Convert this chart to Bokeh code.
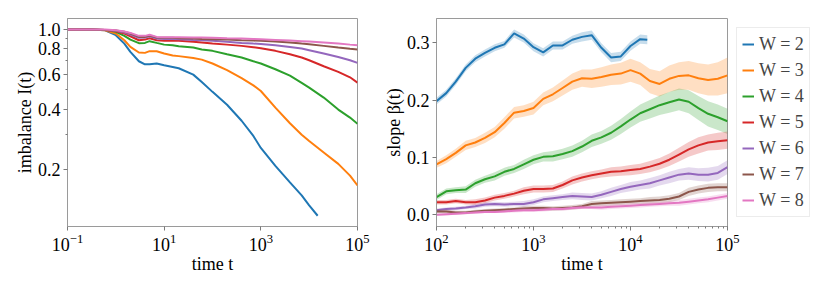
import numpy as np
from bokeh.plotting import figure
from bokeh.models import (Legend, LegendItem, FixedTicker, Range1d, PrintfTickFormatter)
from bokeh.layouts import row
from bokeh.embed import file_html
from bokeh.resources import INLINE

FONT = "Liberation Serif"
COLORS = ["#1f77b4", "#ff7f0e", "#2ca02c", "#d62728", "#9467bd", "#8c564b", "#e377c2"]
W_VALUES = [2, 3, 4, 5, 6, 7, 8]

# ---------------- left panel: imbalance I(t) ----------------
T_IMB = [0.1, 0.3, 0.6, 1, 1.5, 2, 3, 4, 5, 7, 10, 15, 20, 40, 60, 100, 200, 400,
         700, 1000, 2000, 4000, 7000, 1e4, 2e4, 4e4, 7e4, 1e5]
T_IMB_W2 = T_IMB[:24] + [1.5e4]
I_W2 = [1.0, 1.0, 0.992, 0.937, 0.851, 0.774, 0.695, 0.671, 0.671, 0.677, 0.664, 0.651,
        0.641, 0.596, 0.548, 0.489, 0.422, 0.351, 0.295, 0.257, 0.209, 0.173, 0.149, 0.133, 0.118]
I_W3 = [1.0, 1.0, 0.992, 0.955, 0.884, 0.819, 0.768, 0.765, 0.780, 0.780, 0.759, 0.742,
        0.737, 0.722, 0.708, 0.677, 0.627, 0.572, 0.527, 0.494, 0.408, 0.341, 0.299, 0.278,
        0.244, 0.214, 0.187, 0.167]
I_W4 = [1.0, 1.0, 0.996, 0.974, 0.930, 0.891, 0.855, 0.858, 0.875, 0.858, 0.841, 0.835,
        0.826, 0.813, 0.795, 0.783, 0.753, 0.725, 0.695, 0.677, 0.634, 0.589, 0.542, 0.513,
        0.458, 0.399, 0.364, 0.339]
I_W5 = [1.0, 1.0, 0.996, 0.981, 0.955, 0.926, 0.884, 0.891, 0.905, 0.884, 0.878, 0.881,
        0.878, 0.868, 0.861, 0.851, 0.841, 0.829, 0.816, 0.807, 0.783, 0.753, 0.725, 0.703,
        0.656, 0.615, 0.578, 0.544]
I_W6 = [1.0, 1.0, 0.996, 0.985, 0.966, 0.944, 0.909, 0.912, 0.926, 0.902, 0.898, 0.898,
        0.895, 0.888, 0.884, 0.878, 0.868, 0.858, 0.851, 0.848, 0.835, 0.819, 0.804, 0.789,
        0.759, 0.730, 0.703, 0.682]
I_W7 = [1.0, 1.0, 0.996, 0.989, 0.974, 0.955, 0.919, 0.919, 0.933, 0.912, 0.909, 0.909,
        0.905, 0.902, 0.898, 0.895, 0.891, 0.884, 0.881, 0.878, 0.871, 0.861, 0.851, 0.845,
        0.829, 0.813, 0.801, 0.795]
I_W8 = [1.0, 1.0, 1.0, 0.992, 0.977, 0.962, 0.930, 0.930, 0.941, 0.919, 0.916, 0.916,
        0.916, 0.912, 0.912, 0.909, 0.905, 0.902, 0.898, 0.895, 0.888, 0.881, 0.875, 0.871,
        0.861, 0.851, 0.841, 0.835]

# ---------------- right panel: slope beta(t) ----------------
T_SLOPE = [100, 126, 158, 200, 251, 316, 398, 501, 631, 794, 1000, 1259, 1585, 1995,
           2512, 3162, 3981, 5012, 6310, 7943, 10000, 12589, 15849, 19953, 25119, 31623,
           39811, 50119, 63096, 79433, 100000]
T_SLOPE_W2 = T_SLOPE[:22] + [14900]
B_W2 = [0.198, 0.212, 0.232, 0.256, 0.272, 0.282, 0.291, 0.297, 0.316, 0.307, 0.292, 0.283,
        0.295, 0.295, 0.305, 0.310, 0.313, 0.291, 0.274, 0.276, 0.294, 0.306, 0.305]
B_W3 = [0.088, 0.097, 0.108, 0.121, 0.126, 0.134, 0.144, 0.160, 0.178, 0.181, 0.186, 0.202,
        0.210, 0.221, 0.232, 0.238, 0.237, 0.240, 0.244, 0.246, 0.252, 0.246, 0.233, 0.228,
        0.237, 0.242, 0.243, 0.238, 0.235, 0.237, 0.243]
B_W4 = [0.031, 0.041, 0.043, 0.044, 0.055, 0.062, 0.067, 0.075, 0.080, 0.088, 0.096, 0.101,
        0.102, 0.106, 0.111, 0.119, 0.129, 0.135, 0.143, 0.154, 0.166, 0.177, 0.184, 0.191,
        0.196, 0.201, 0.197, 0.186, 0.176, 0.170, 0.163]
B_W5 = [0.022, 0.022, 0.024, 0.022, 0.022, 0.025, 0.030, 0.033, 0.037, 0.042, 0.045, 0.045,
        0.046, 0.052, 0.060, 0.065, 0.069, 0.072, 0.075, 0.076, 0.078, 0.080, 0.084, 0.089,
        0.096, 0.105, 0.114, 0.121, 0.126, 0.128, 0.130]
B_W6 = [0.008, 0.010, 0.011, 0.013, 0.015, 0.018, 0.019, 0.018, 0.019, 0.019, 0.022, 0.027,
        0.029, 0.031, 0.033, 0.032, 0.031, 0.035, 0.040, 0.045, 0.049, 0.052, 0.055, 0.060,
        0.065, 0.070, 0.072, 0.070, 0.070, 0.073, 0.083]
B_W7 = [0.006, 0.006, 0.004, 0.004, 0.006, 0.007, 0.008, 0.009, 0.010, 0.011, 0.012, 0.012,
        0.011, 0.012, 0.013, 0.015, 0.019, 0.020, 0.021, 0.022, 0.023, 0.024, 0.025, 0.026,
        0.028, 0.032, 0.040, 0.044, 0.047, 0.048, 0.048]
B_W8 = [0.000, 0.001, 0.002, 0.003, 0.004, 0.005, 0.005, 0.006, 0.007, 0.008, 0.008, 0.009,
        0.010, 0.010, 0.012, 0.013, 0.013, 0.013, 0.014, 0.015, 0.016, 0.017, 0.018, 0.019,
        0.020, 0.021, 0.023, 0.025, 0.027, 0.030, 0.033]

# half widths of the shaded uncertainty bands
E_W2 = [0.006, 0.006, 0.006, 0.006, 0.006, 0.006, 0.006, 0.006, 0.007, 0.007, 0.007, 0.007,
        0.007, 0.007, 0.007, 0.008, 0.008, 0.008, 0.008, 0.008, 0.008, 0.008, 0.008]
E_W3 = [0.006, 0.007, 0.007, 0.008, 0.008, 0.009, 0.009, 0.010, 0.010, 0.010, 0.011, 0.011,
        0.012, 0.013, 0.014, 0.015, 0.016, 0.017, 0.018, 0.019, 0.020, 0.020, 0.021, 0.022,
        0.023, 0.024, 0.025, 0.026, 0.027, 0.029, 0.031]
E_W4 = [0.005, 0.005, 0.005, 0.006, 0.006, 0.006, 0.007, 0.007, 0.007, 0.008, 0.008, 0.008,
        0.009, 0.009, 0.010, 0.010, 0.011, 0.011, 0.012, 0.013, 0.014, 0.015, 0.016, 0.017,
        0.018, 0.019, 0.020, 0.021, 0.022, 0.022, 0.022]
E_W5 = [0.004, 0.004, 0.004, 0.004, 0.005, 0.005, 0.005, 0.005, 0.005, 0.006, 0.006, 0.006,
        0.006, 0.006, 0.007, 0.007, 0.007, 0.007, 0.008, 0.008, 0.009, 0.009, 0.010, 0.010,
        0.011, 0.012, 0.013, 0.014, 0.014, 0.015, 0.015]
E_W6 = [0.003, 0.003, 0.003, 0.003, 0.004, 0.004, 0.004, 0.004, 0.004, 0.005, 0.005, 0.005,
        0.005, 0.005, 0.006, 0.006, 0.006, 0.006, 0.007, 0.007, 0.008, 0.008, 0.009, 0.009,
        0.010, 0.010, 0.011, 0.011, 0.012, 0.012, 0.012]
E_W7 = [0.003, 0.003, 0.003, 0.003, 0.003, 0.003, 0.003, 0.003, 0.003, 0.004, 0.004, 0.004,
        0.004, 0.004, 0.004, 0.004, 0.005, 0.005, 0.005, 0.005, 0.005, 0.005, 0.006, 0.006,
        0.006, 0.006, 0.007, 0.007, 0.007, 0.007, 0.007]
E_W8 = [0.002, 0.002, 0.002, 0.002, 0.002, 0.002, 0.002, 0.002, 0.003, 0.003, 0.003, 0.003,
        0.003, 0.003, 0.003, 0.003, 0.003, 0.004, 0.004, 0.004, 0.004, 0.004, 0.004, 0.004,
        0.004, 0.005, 0.005, 0.005, 0.005, 0.005, 0.005]

IMB = [(T_IMB_W2, I_W2), (T_IMB, I_W3), (T_IMB, I_W4), (T_IMB, I_W5),
       (T_IMB, I_W6), (T_IMB, I_W7), (T_IMB, I_W8)]
SLOPE = [(T_SLOPE_W2, B_W2, E_W2), (T_SLOPE, B_W3, E_W3), (T_SLOPE, B_W4, E_W4),
         (T_SLOPE, B_W5, E_W5), (T_SLOPE, B_W6, E_W6), (T_SLOPE, B_W7, E_W7),
         (T_SLOPE, B_W8, E_W8)]

SPINE = "#9a9a9a"
TICK = "#7a7a7a"


def style(p):
    p.outline_line_color = SPINE
    p.outline_line_width = 1
    p.xgrid.visible = False
    p.ygrid.visible = False
    p.background_fill_color = "white"
    p.border_fill_color = "white"
    for ax in (p.xaxis[0], p.yaxis[0]):
        ax.axis_line_color = SPINE
        ax.major_tick_line_color = TICK
        ax.minor_tick_line_color = TICK
        ax.major_tick_out = 4
        ax.major_tick_in = 0
        ax.minor_tick_out = 2
        ax.minor_tick_in = 0
        ax.major_label_text_font = FONT
        ax.major_label_text_font_size = "18px"
        ax.major_label_text_color = "black"
        ax.axis_label_text_font = FONT
        ax.axis_label_text_font_size = "18px"
        ax.axis_label_text_font_style = "normal"
        ax.axis_label_text_color = "black"
        ax.major_label_standoff = 3
        ax.axis_label_standoff = 0


# left figure
p1 = figure(x_axis_type="log", y_axis_type="log", frame_width=290, frame_height=208,
            min_border_left=67, min_border_right=20, min_border_top=18, min_border_bottom=50,
            output_backend="svg", toolbar_location=None,
            x_range=Range1d(0.1, 1e5), y_range=Range1d(0.1043, 1.135))
style(p1)
for (t, v), c in zip(IMB, COLORS):
    p1.line(t, v, line_color=c, line_width=2)
p1.xaxis.ticker = FixedTicker(ticks=[0.1, 10, 1000, 1e5], minor_ticks=[])
p1.yaxis.ticker = FixedTicker(ticks=[0.2, 0.4, 0.6, 0.8, 1.0], minor_ticks=[0.3, 0.5, 0.7, 0.9])
p1.yaxis.formatter = PrintfTickFormatter(format="%.1f")
p1.xaxis.axis_label = "time t"
p1.yaxis.axis_label = "imbalance I(t)"

# right figure
p2 = figure(x_axis_type="log", frame_width=291, frame_height=208,
            min_border_left=59, min_border_right=10, min_border_top=18, min_border_bottom=50,
            output_backend="svg", toolbar_location=None,
            x_range=Range1d(100, 1e5), y_range=Range1d(-0.0203, 0.342))
style(p2)
items = []
for (t, b, e), c, w in zip(SLOPE, COLORS, W_VALUES):
    lo = [bi - ei for bi, ei in zip(b, e)]
    hi = [bi + ei for bi, ei in zip(b, e)]
    p2.varea(x=t, y1=lo, y2=hi, fill_color=c, fill_alpha=0.25)
    r = p2.line(t, b, line_color=c, line_width=2)
    items.append(LegendItem(label=f"W = {w}", renderers=[r]))
p2.yaxis.ticker = FixedTicker(ticks=[0.0, 0.1, 0.2, 0.3])
p2.yaxis.formatter = PrintfTickFormatter(format="%.1f")
p2.xaxis.axis_label = "time t"
p2.yaxis.axis_label = "slope β(t)"

legend = Legend(items=items, location="top_left", margin=9, padding=5, spacing=4,
                glyph_width=12, glyph_height=22, label_height=22, label_standoff=5,
                label_text_font=FONT, label_text_font_size="18px",
                border_line_color="#d9d9d9", border_line_width=1,
                background_fill_color="white", background_fill_alpha=0.8)
p2.add_layout(legend, "right")

layout = row(p1, p2)
open("out.html", "w").write(file_html(layout, INLINE))
